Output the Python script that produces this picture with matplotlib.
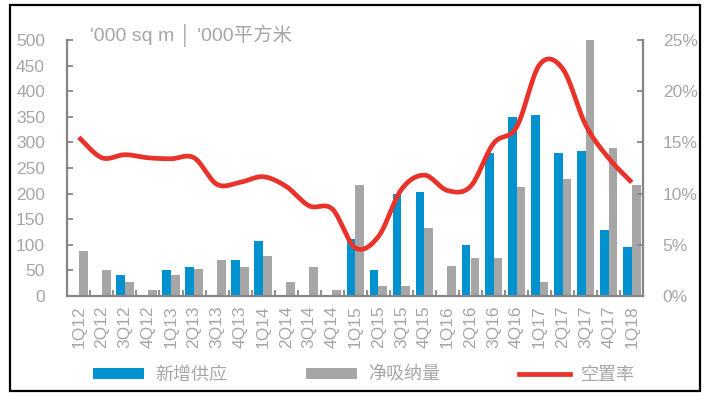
import numpy as np
import matplotlib
matplotlib.use("Agg")
import matplotlib.pyplot as plt
from matplotlib.patches import Rectangle, Patch
from matplotlib.lines import Line2D

plt.rcParams['font.family'] = ['Liberation Sans', 'Noto Sans CJK SC', 'DejaVu Sans']

categories = ['1Q12', '2Q12', '3Q12', '4Q12', '1Q13', '2Q13', '3Q13', '4Q13',
              '1Q14', '2Q14', '3Q14', '4Q14', '1Q15', '2Q15', '3Q15', '4Q15',
              '1Q16', '2Q16', '3Q16', '4Q16', '1Q17', '2Q17', '3Q17', '4Q17', '1Q18']
new_supply = [0, 0, 41, 0, 50, 57, 0, 70, 107, 0, 0, 0, 111, 50, 199, 204,
              0, 99, 279, 349, 353, 279, 283, 128, 95]
net_absorption = [87, 50, 28, 12, 41, 53, 70, 57, 78, 28, 57, 12, 216, 20, 20, 132,
                  58, 74, 74, 212, 28, 228, 500, 290, 216]
vacancy = [15.5, 13.5, 13.8, 13.5, 13.4, 13.5, 10.9, 11.1, 11.65, 10.7, 8.8, 8.5,
           4.7, 5.8, 10.4, 11.8, 10.3, 10.7, 14.9, 16.5, 22.6, 22.2, 16.7, 13.45, 11.1]
legend_labels = ['新增供应', '净吸纳量', '空置率']
unit_label = "'000 sq m │ '000平方米"

BLUE = '#0091CF'
GRAY = '#A6A6A6'
RED = '#E8322A'
TXT = '#A6A6A6'
SPINE = '#868686'


def smooth(xs, ys, n=30):
    # Excel-style smoothed line (Bezier with 1/6 control points)
    xs = np.asarray(xs, float)
    ys = np.asarray(ys, float)
    px = np.concatenate([[xs[0]], xs, [xs[-1]]])
    py = np.concatenate([[ys[0]], ys, [ys[-1]]])
    outx, outy = [], []
    t = np.linspace(0, 1, n)
    for i in range(len(xs) - 1):
        p0x, p1x, p2x, p3x = px[i], px[i + 1], px[i + 2], px[i + 3]
        p0y, p1y, p2y, p3y = py[i], py[i + 1], py[i + 2], py[i + 3]
        b1x = p1x + (p2x - p0x) / 6
        b1y = p1y + (p2y - p0y) / 6
        b2x = p2x - (p3x - p1x) / 6
        b2y = p2y - (p3y - p1y) / 6
        bx = (1 - t) ** 3 * p1x + 3 * (1 - t) ** 2 * t * b1x + 3 * (1 - t) * t ** 2 * b2x + t ** 3 * p2x
        by = (1 - t) ** 3 * p1y + 3 * (1 - t) ** 2 * t * b1y + 3 * (1 - t) * t ** 2 * b2y + t ** 3 * p2y
        outx.extend(bx if i == 0 else bx[1:])
        outy.extend(by if i == 0 else by[1:])
    return np.array(outx), np.array(outy)


fig = plt.figure(figsize=(7.11, 3.96), dpi=100)
ax = fig.add_axes([67.3 / 711, 1 - 296 / 396, (643.3 - 67.3) / 711, (296 - 40) / 396])
ax2 = ax.twinx()

x = np.arange(len(categories))
w = 0.38
ax.bar(x - w / 2, new_supply, width=w, color=BLUE, zorder=2)
ax.bar(x + w / 2, net_absorption, width=w, color=GRAY, zorder=2)

sx, sy = smooth(x, vacancy)
ax2.plot(sx, sy, color=RED, lw=3.4, solid_capstyle='butt', zorder=3)

ax.set_xlim(-0.5, len(categories) - 0.5)
ax.set_ylim(0, 500)
ax2.set_ylim(0, 25)

ax.set_yticks(np.arange(0, 501, 50))
ax2.set_yticks(np.arange(0, 26, 5))
ax2.set_yticklabels([f'{v}%' for v in range(0, 26, 5)])

ax.set_xticks(x)
ax.set_xticklabels(categories, rotation=90)
ax.set_xticks(np.arange(0.5, len(categories) - 1, 1), minor=True)
ax.tick_params(axis='x', which='major', length=0, pad=7, labelsize=12.5, labelcolor=TXT)
ax.tick_params(axis='x', which='minor', length=4, width=1.3, direction='in', color=SPINE)
ax.tick_params(axis='y', length=4, width=1.3, direction='in', color=SPINE,
               labelsize=12.5, labelcolor=TXT, pad=16)
ax2.tick_params(axis='y', length=4, width=1.3, direction='in', color=SPINE,
                labelsize=12.5, labelcolor=TXT, pad=14)

for a in (ax, ax2):
    for s in a.spines.values():
        s.set_color(SPINE)
        s.set_linewidth(1.6)
    a.spines['top'].set_visible(False)
ax.spines['right'].set_visible(False)
ax2.spines['left'].set_visible(False)
ax2.spines['bottom'].set_visible(False)

fig.text(90 / 711, 1 - 35 / 396, unit_label, color=TXT, fontsize=14, va='center', ha='left')

handles = [Patch(facecolor=BLUE, edgecolor='none'),
           Patch(facecolor=GRAY, edgecolor='none'),
           Line2D([0], [0], color=RED, lw=3.4)]
leg = fig.legend(handles, legend_labels, loc='center', bbox_to_anchor=(364 / 711, 1 - 375 / 396),
                 ncol=3, frameon=False, fontsize=13, handlelength=2.8, handleheight=0.6,
                 handletextpad=0.6, columnspacing=4.4)
for t in leg.get_texts():
    t.set_color(TXT)

fig.patches.append(Rectangle((10 / 711, 5 / 396), (700 - 10) / 711, (391 - 5) / 396,
                             transform=fig.transFigure, fill=False, edgecolor='black', lw=1.6))

fig.savefig('out.png', dpi=100)
